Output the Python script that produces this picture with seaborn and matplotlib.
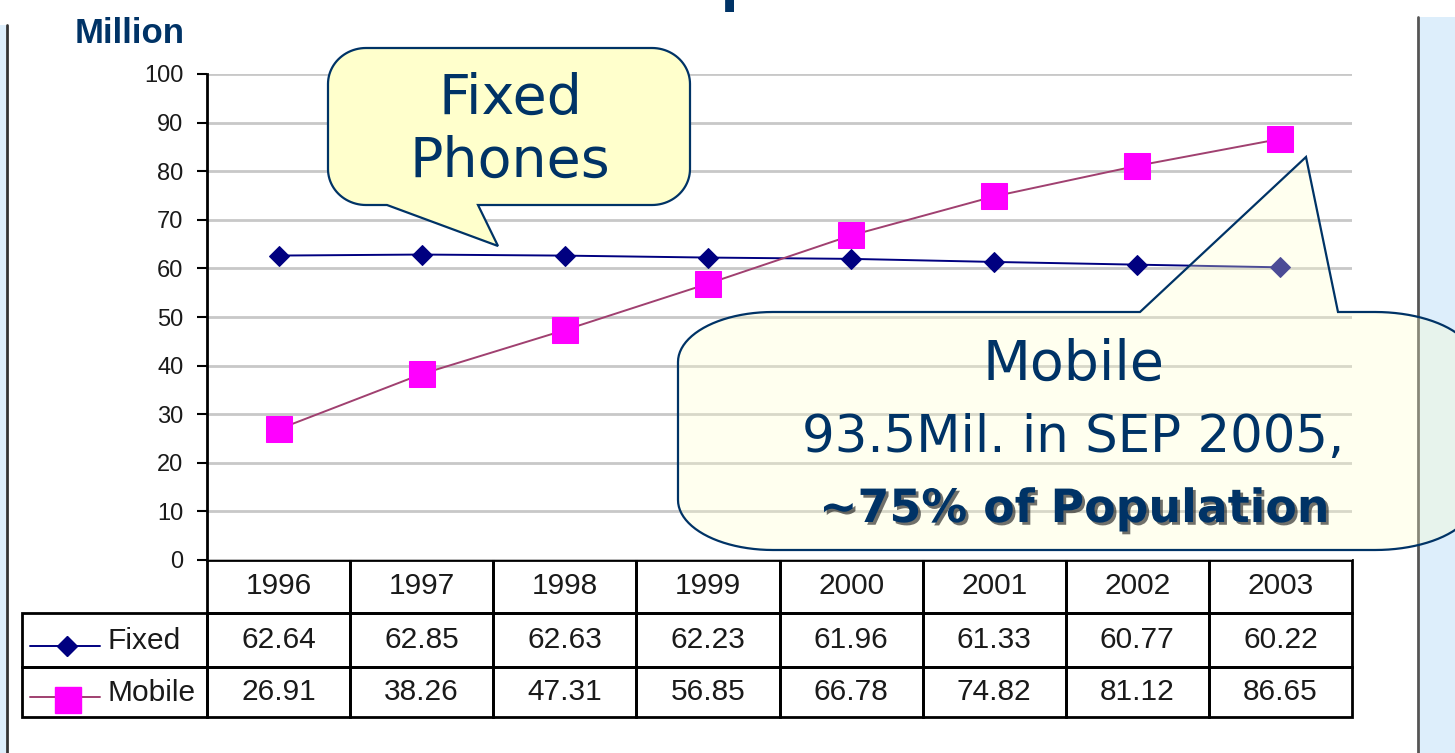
import numpy as np
import matplotlib
matplotlib.use('Agg')
import matplotlib.pyplot as plt
import matplotlib.patheffects as pe
from matplotlib.patches import Polygon, Rectangle
from matplotlib.table import Table
from matplotlib import font_manager
import seaborn as sns

# data
years = ['1996', '1997', '1998', '1999', '2000', '2001', '2002', '2003']
fixed = [62.64, 62.85, 62.63, 62.23, 61.96, 61.33, 60.77, 60.22]
mobile = [26.91, 38.26, 47.31, 56.85, 66.78, 74.82, 81.12, 86.65]
series_names = ['Fixed', 'Mobile']
y_ticks = list(range(0, 101, 10))

sns.set_style('white')
plt.rcParams['font.family'] = ['Liberation Sans', 'DejaVu Sans']

navy = '#000080'
mauve = '#A04070'
magenta = '#FF00FF'
dark_blue = '#003366'
panel_blue = '#DDEEFB'

W, H = 1455, 753
fig = plt.figure(figsize=(W / 100, H / 100), dpi=100)


def frac(x0, y0, x1, y1):
    # pixel box (y down) -> figure fraction rect
    return [x0 / W, 1 - y1 / H, (x1 - x0) / W, (y1 - y0) / H]


# main chart
ax_w, ax_h = 1352 - 207, 560 - 74
ax = fig.add_axes(frac(207, 74, 1352, 560))
xs = np.arange(len(years))
sns.lineplot(x=xs, y=fixed, ax=ax, color=navy, lw=1.4, marker='D',
             markersize=10.5, markeredgecolor=navy, markerfacecolor=navy)
sns.lineplot(x=xs, y=mobile, ax=ax, color=mauve, lw=1.4, marker='s',
             markersize=18.5, markeredgecolor=magenta, markerfacecolor=magenta)

ax.set_xlim(-0.5, len(years) - 0.5)
ax.set_ylim(0, 100)
ax.set_yticks(y_ticks)
ax.set_xticks([])
ax.set_xlabel('')
ax.set_ylabel('')
ax.grid(axis='y', color='#C8C8C8', lw=2)
ax.set_axisbelow(True)
for s in ['top', 'right', 'bottom']:
    ax.spines[s].set_visible(False)
ax.spines['left'].set_color('black')
ax.spines['left'].set_linewidth(2)
ax.tick_params(axis='y', left=True, length=7, width=1.5, color='black',
               pad=10, labelsize=17, labelcolor='#1a1a1a')

# data table under the chart
col_w = [185] + [ax_w / len(years)] * len(years)
row_h = [53, 54, 50]
tbl_h = sum(row_h)
tbl = Table(ax, bbox=[(22 - 207) / ax_w, -tbl_h / ax_h, (1352 - 22) / ax_w, tbl_h / ax_h])
rows_text = [[''] + years,
             [''] + ['%.2f' % v for v in fixed],
             [''] + ['%.2f' % v for v in mobile]]
for r in range(3):
    for c in range(len(col_w)):
        cell = tbl.add_cell(r, c, width=col_w[c], height=row_h[r],
                            text=rows_text[r][c], loc='center')
        cell.set_linewidth(2)
        cell.set_edgecolor('black')
        cell.set_facecolor('none')
        cell.get_text().set_color('#1a1a1a')
tbl[0, 0].visible_edges = 'open'
tbl.auto_set_font_size(False)
tbl.set_fontsize(21.5)
ax.add_table(tbl)

# overlay in pixel coords for slide decorations
ov = fig.add_axes([0, 0, 1, 1], zorder=10)
ov.set_xlim(0, W)
ov.set_ylim(H, 0)
ov.axis('off')
ov.patch.set_alpha(0)

ov.add_patch(Rectangle((1420, 17), 40, 740, color=panel_blue, lw=0))
ov.plot([1418, 1418], [17, 753], color='#555555', lw=2)
ov.add_patch(Rectangle((0, 25), 6, 730, color=panel_blue, lw=0))
ov.plot([7, 7], [25, 753], color='#333333', lw=2)

# legend keys in the table's first column
ov.plot([30, 100], [646, 646], color=navy, lw=1.4)
ov.plot([67], [646], marker='D', ms=10.5, color=navy)
ov.plot([30, 100], [697, 697], color=mauve, lw=1.4)
ov.plot([68], [700], marker='s', ms=18.5, color=magenta)
ov.text(108, 641, series_names[0], fontsize=21.5, va='center', color='#1a1a1a')
ov.text(108, 693, series_names[1], fontsize=21.5, va='center', color='#1a1a1a')


def bubble(x0, y0, x1, y1, rxl, rxr, ry, side, a, b, tip, n=24):
    def arc(cx, cy, rx, ryy, t0, t1):
        t = np.radians(np.linspace(t0, t1, n))
        return list(zip(cx + rx * np.cos(t), cy + ryy * np.sin(t)))
    pts = arc(x0 + rxl, y0 + ry, rxl, ry, 180, 270)
    if side == 'top':
        pts += [(a, y0), tip, (b, y0)]
    pts += arc(x1 - rxr, y0 + ry, rxr, ry, 270, 360)
    pts += arc(x1 - rxr, y1 - ry, rxr, ry, 0, 90)
    if side == 'bottom':
        pts += [(b, y1), tip, (a, y1)]
    pts += arc(x0 + rxl, y1 - ry, rxl, ry, 90, 180)
    return pts


# "Fixed Phones" callout
ov.add_patch(Polygon(bubble(328, 48, 690, 205, 38, 38, 36, 'bottom', 387, 478, (498, 246)),
                     closed=True, fc='#FFFFCC', ec=dark_blue, lw=1.6, zorder=3))
ov.text(510, 114, 'Fixed', fontsize=40, family='DejaVu Sans', color=dark_blue,
        ha='center', va='baseline', zorder=4)
ov.text(510, 177, 'Phones', fontsize=40, family='DejaVu Sans', color=dark_blue,
        ha='center', va='baseline', zorder=4)

# "Mobile" callout (semi transparent)
ov.add_patch(Polygon(bubble(678, 312, 1475, 550, 95, 100, 50, 'top', 1140, 1338, (1306, 157)),
                     closed=True, fc=(1, 1, 0.8, 0.3), ec=dark_blue, lw=1.6, zorder=5))
ov.text(1073, 380, 'Mobile', fontsize=40, family='DejaVu Sans', color=dark_blue,
        ha='center', va='baseline', zorder=6)
ov.text(1073, 452, '93.5Mil. in SEP 2005,', fontsize=37, family='DejaVu Sans',
        color=dark_blue, ha='center', va='baseline', zorder=6)
ov.text(1075, 522, '~75% of Population', fontsize=33, family='DejaVu Sans',
        weight='bold', color=dark_blue, ha='center', va='baseline', zorder=6,
        path_effects=[pe.withSimplePatchShadow(offset=(2, -2), shadow_rgbFace='#111111', alpha=0.6)])

# slide text
names = {f.name for f in font_manager.fontManager.ttflist}
if 'Liberation Sans Narrow' in names:
    fig.text(75 / W, 1 - 43 / H, 'Million', family='Liberation Sans Narrow', weight='bold',
             fontsize=29, color=dark_blue, va='baseline')
else:
    fig.text(75 / W, 1 - 43 / H, 'Million', weight='bold', fontsize=25,
             color=dark_blue, va='baseline')
# last line of the slide title, mostly cut off at the top edge
fig.text(704 / W, 1 + 1 / H, 'in Japan', ha='center', va='baseline', fontsize=47,
         weight='bold', color=dark_blue)

fig.savefig('out.png', dpi=100)
